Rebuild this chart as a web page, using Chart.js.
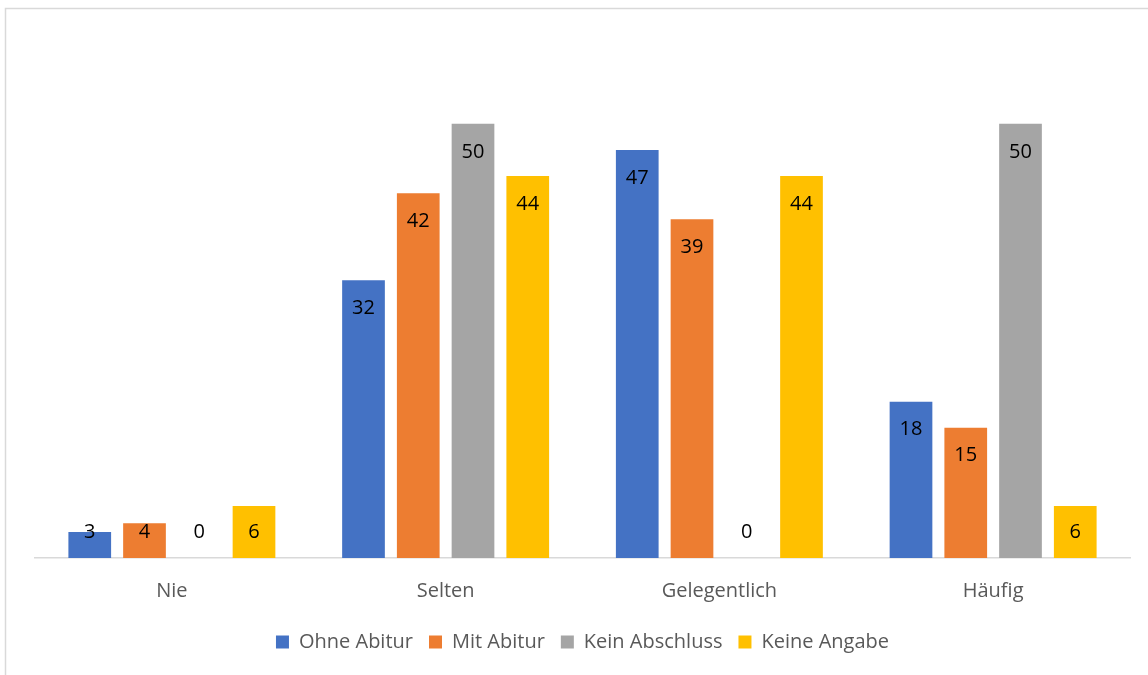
<!DOCTYPE html>
<html>
<head>
<meta charset="utf-8">
<script src="https://cdn.jsdelivr.net/npm/chart.js@4/dist/chart.umd.min.js"></script>
<style>
  html, body { margin: 0; padding: 0; background: #fff; }
  #wrap { width: 1148px; height: 675px; position: relative; }
</style>
</head>
<body>
<div id="wrap"><canvas id="chart"></canvas></div>
<script>
const categories = ["Nie", "Selten", "Gelegentlich", "Häufig"];
const ohneAbitur = [3, 32, 47, 18];
const mitAbitur = [4, 42, 39, 15];
const keinAbschluss = [0, 50, 0, 50];
const keineAngabe = [6, 44, 44, 6];

const FONT = "'Open Sans', 'Noto Sans', sans-serif";

// frame around the chart area, like an exported office chart
const framePlugin = {
    id: "frame",
    beforeDraw(chart) {
        const ctx = chart.ctx;
        ctx.save();
        ctx.fillStyle = "#fff";
        ctx.fillRect(0, 0, chart.width, chart.height);
        ctx.strokeStyle = "#d9d9d9";
        ctx.lineWidth = 1.5;
        ctx.strokeRect(5.5, 8.5, chart.width + 20, chart.height + 20);
        ctx.restore();
    },
};

// value labels inside the bar end, pushed up when the bar is too short
const valueLabels = {
    id: "valueLabels",
    afterDatasetsDraw(chart) {
        const ctx = chart.ctx;
        ctx.save();
        ctx.font = "20px " + FONT;
        ctx.fillStyle = "#000";
        ctx.textAlign = "center";
        ctx.textBaseline = "middle";
        chart.data.datasets.forEach((ds, i) => {
            chart.getDatasetMeta(i).data.forEach((bar, j) => {
                const y = Math.min(bar.y + 28, bar.base - 26);
                ctx.fillText(String(ds.data[j]), bar.x, y);
            });
        });
        ctx.restore();
    },
};

new Chart(document.getElementById("chart"), {
    type: "bar",
    data: {
        labels: categories,
        datasets: [
            { label: "Ohne Abitur", data: ohneAbitur, backgroundColor: "#4472c4" },
            { label: "Mit Abitur", data: mitAbitur, backgroundColor: "#ed7d31" },
            { label: "Kein Abschluss", data: keinAbschluss, backgroundColor: "#a5a5a5" },
            { label: "Keine Angabe", data: keineAngabe, backgroundColor: "#ffc000" },
        ],
    },
    options: {
        responsive: true,
        maintainAspectRatio: false,
        animation: false,
        categoryPercentage: 0.8,
        barPercentage: 0.78,
        layout: { padding: { left: 35, right: 18, top: 37, bottom: 13 } },
        plugins: {
            legend: {
                position: "bottom",
                labels: {
                    color: "#595959",
                    font: { family: FONT, size: 20 },
                    boxWidth: 13,
                    boxHeight: 13,
                    padding: 16,
                },
            },
            tooltip: { enabled: false },
        },
        scales: {
            x: {
                grid: { display: false },
                border: { color: "#d9d9d9", width: 1.5 },
                ticks: {
                    color: "#595959",
                    font: { family: FONT, size: 20, lineHeight: 0.9 },
                    padding: 16,
                },
            },
            y: {
                display: false,
                min: 0,
                max: 60,
            },
        },
    },
    plugins: [framePlugin, valueLabels],
});
</script>
</body>
</html>
